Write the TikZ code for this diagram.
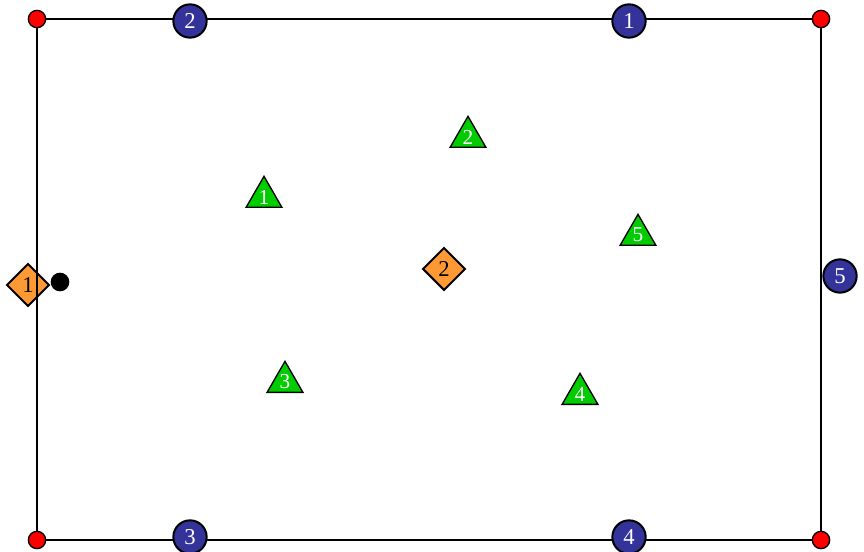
\documentclass[tikz,border=0pt]{standalone}
\usepackage{fontspec}
\setmainfont{Liberation Serif}
\usepackage{tikz}
\usetikzlibrary{shapes.geometric}
\definecolor{pinred}{HTML}{FF0000}
\definecolor{portblue}{HTML}{333399}
\definecolor{gateorange}{HTML}{FF9933}
\definecolor{treegreen}{HTML}{00CC00}
\newcommand{\tlab}[1]{\raisebox{-4pt}{#1}}

\begin{document}
\begin{tikzpicture}[x=0.75pt, y=-0.75pt, line width=1.5pt,
  corner/.style={circle, draw, fill=pinred, line width=1pt, inner sep=0pt, minimum size=13pt},
  port/.style={circle, draw, fill=portblue, text=white, inner sep=0pt, minimum size=25pt, font=\fontsize{17}{20}\selectfont},
  gate/.style={diamond, draw, fill=gateorange, inner sep=0pt, minimum size=32pt, font=\fontsize{17}{20}\selectfont},
  tree/.style={regular polygon, regular polygon sides=3, draw, fill=treegreen, text=white, inner sep=0pt, minimum size=31pt, line width=1pt, font=\fontsize{16}{19}\selectfont},
  spot/.style={circle, fill=black, inner sep=0pt, minimum size=14pt}]
\useasboundingbox (0,0) rectangle (864,552);
% gate under the left edge
\node[gate] (g1) at (28,285) {1};
\node[spot] (s) at (60,282) {};
% frame
\node[corner] (c1) at (37,19)   {};
\node[corner] (c2) at (821,19)  {};
\node[corner] (c3) at (821,540) {};
\node[corner] (c4) at (37,540)  {};
\draw (c1) -- (c2); \draw (c2) -- (c3); \draw (c3) -- (c4); \draw (c4) -- (c1);
% ports on the frame
\node[port] (p1) at (629,21)  {1};
\node[port] (p2) at (190,21)  {2};
\node[port] (p3) at (190,537) {3};
\node[port] (p4) at (629,537) {4};
\node[port] (p5) at (840,276) {5};
% inside
\node[gate] (g2) at (444,269) {2};
\node[tree] (t1) at (264,197) {\tlab{1}};
\node[tree] (t2) at (468,137) {\tlab{2}};
\node[tree] (t3) at (285,382) {\tlab{3}};
\node[tree] (t4) at (580,394) {\tlab{4}};
\node[tree] (t5) at (638,235) {\tlab{5}};
\end{tikzpicture}
\end{document}
